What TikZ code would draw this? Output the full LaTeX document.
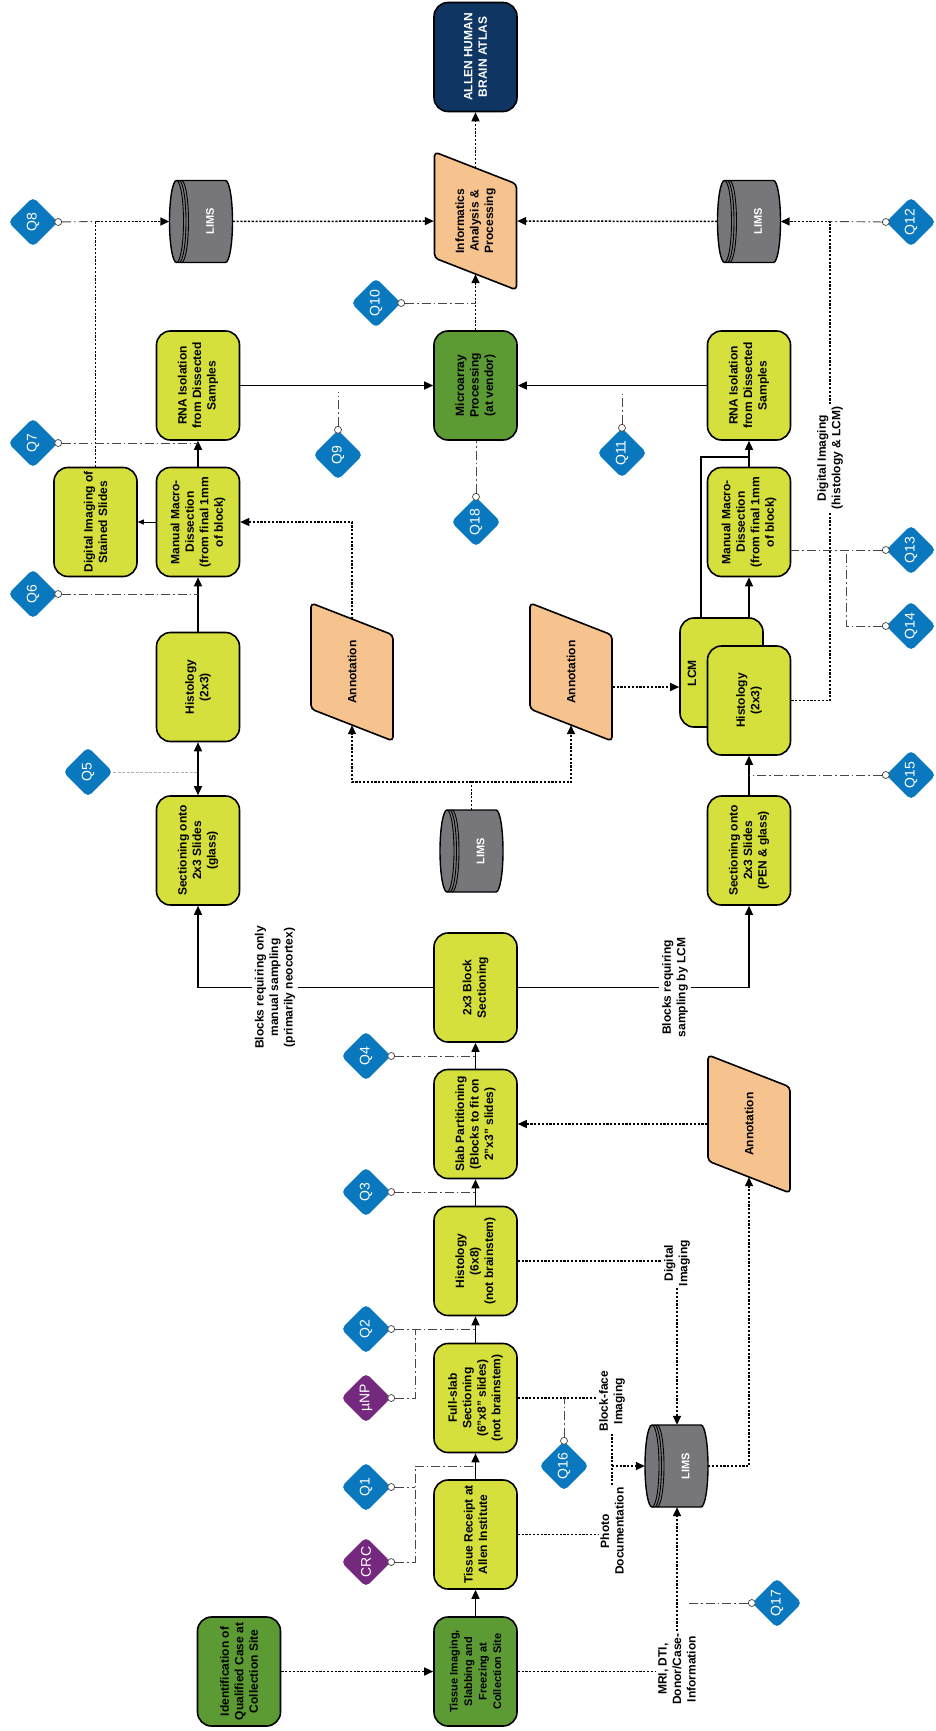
\documentclass[tikz,border=0pt]{standalone}
\usepackage{fontspec}
\setmainfont{Liberation Sans}
\usetikzlibrary{shapes.geometric,arrows.meta,calc}
\definecolor{lime}{HTML}{D5E03C}
\definecolor{dgreen}{HTML}{5C9A33}
\definecolor{navy}{HTML}{0F3563}
\definecolor{peach}{HTML}{F6C38E}
\definecolor{drumgray}{HTML}{77777B}
\definecolor{qblue}{HTML}{0A78BE}
\definecolor{qpurple}{HTML}{74297F}
\tikzset{
 base/.style={rotate=90, align=center, font=\bfseries\fontsize{12}{14.5}\selectfont, inner sep=2pt},
 box/.style={base, rectangle, rounded corners=14pt, draw=black, line width=1.6pt, fill=lime, minimum width=109pt, minimum height=83pt},
 gbox/.style={box, fill=dgreen},
 nbox/.style={box, fill=navy, text=white},
 ptext/.style={base, minimum width=106pt, minimum height=83pt},
 pshape/.style={draw=black, line width=1.6pt, fill=peach, rounded corners=4pt},
 drum/.style={draw=black, line width=1.4pt, fill=drumgray},
 drumline/.style={draw=black, line width=0.9pt},
 drumnode/.style={rotate=90, minimum width=82pt, minimum height=63pt, inner sep=0pt},
 drumtext/.style={base, text=white, font=\bfseries\fontsize{11}{13}\selectfont},
 qd/.style={diamond, fill=qblue, minimum width=50pt, minimum height=50pt, inner sep=0pt, rounded corners=5pt, text=white, rotate=90, font=\fontsize{14}{14}\selectfont},
 pd/.style={qd, fill=qpurple},
 qc/.style={circle, draw=black!75, fill=white, line width=0.7pt, minimum size=7pt, inner sep=0pt},
 lbl/.style={base, fill=white, inner sep=3pt},
 solidc/.style={draw=black, line width=1.4pt},
 dotc/.style={draw=black, line width=1.5pt, dash pattern=on 2.2pt off 1.6pt},
 qline/.style={draw=black!72, line width=0.9pt, dash pattern=on 9pt off 3pt on 1.5pt off 3pt},
 faint/.style={draw=black!30, line width=0.6pt, dash pattern=on 3pt off 1.5pt},
 arr/.style={-{Triangle[length=9pt,width=8pt]}},
 sarr/.style={-{Triangle[length=6pt,width=5pt]}},
 darr/.style={{Triangle[length=9pt,width=8pt]}-{Triangle[length=9pt,width=8pt]}},
}
\newcommand\para[4]{%
  \draw[pshape] ({#1-41},{#2-69}) -- ({#1+41},{#2-37}) -- ({#1+41},{#2+69}) -- ({#1-41},{#2+37}) -- cycle;
  \node[ptext] (#3) at (#1,#2) {#4};}
\newcommand\drumdraw[3]{%
  \draw[drum] ({#2-24.5},{#3-41}) -- ({#2+24.5},{#3-41}) arc[start angle=90,end angle=-90,x radius=7pt,y radius=41pt] -- ({#2-24.5},{#3+41}) arc[start angle=270,end angle=90,x radius=7pt,y radius=41pt] -- cycle;
  \foreach \o in {0,2.5,5} \draw[drumline] ({#2-24.5+\o},{#3-41}) arc[start angle=90,end angle=-90,x radius=7pt,y radius=41pt];
  \node[drumnode] (#1) at (#2,#3) {};
  \node[drumtext] (#1t) at ({#2+9},#3) {LIMS};}
\begin{document}
\begin{tikzpicture}[x=1pt,y=-1pt]
\fill[white] (0,0) rectangle (935,1731);
\useasboundingbox (0,0) rectangle (935,1731);

% ---- main column
\node[gbox] (ident) at (239,1671.5) {Identification of\\Qualified Case at\\Collection Site};
\node[gbox, font=\bfseries\fontsize{11}{14.5}\selectfont] (tissimg) at (475.5,1671.5) {Tissue Imaging,\\Slabbing and\\Freezing at\\Collection Site};
\node[box] (receipt) at (475.5,1534.5) {Tissue Receipt at\\Allen Institute};
\node[box] (fullslab) at (475.5,1398) {Full-slab\\Sectioning\\(6"x8" slides)\\(not brainstem)};
\node[box] (hist68) at (475.5,1261) {Histology\\(6x8)\\(not brainstem)};
\node[box] (slab) at (475.5,1124) {Slab Partitioning\\(Blocks to fit on\\2"x3" slides)};
\node[box] (block) at (475.5,987.5) {2x3 Block\\Sectioning};
\node[gbox] (micro) at (475.5,385.5) {Microarray\\Processing\\(at vendor)};
\node[nbox] (atlas) at (475.5,57) {ALLEN HUMAN\\BRAIN ATLAS};

% ---- upper branch
\node[box] (secglass) at (198,850.5) {Sectioning onto\\2x3 Slides\\(glass)};
\node[box] (histU) at (198,687) {Histology\\(2x3)};
\node[box] (macroU) at (198,522) {Manual Macro-\\Dissection\\(from final 1mm\\of block)};
\node[box] (rnaU) at (198,385.5) {RNA Isolation\\from Dissected\\Samples};
\node[box] (digimg) at (95.5,522) {Digital Imaging of\\Stained Slides};

% ---- lower branch
\node[box] (secpen) at (749,850.5) {Sectioning onto\\2x3 Slides\\(PEN \& glass)};
\node[box] (lcm) at (721.5,672.5) {};
\node[base] (lcmtxt) at (692,673) {LCM};
\node[box] (histL) at (749,700.5) {Histology\\(2x3)};
\node[box] (macroL) at (749,522) {Manual Macro-\\Dissection\\(from final 1mm\\of block)};
\node[box] (rnaL) at (749,385.5) {RNA Isolation\\from Dissected\\Samples};

% ---- parallelograms
\para{352}{672}{annU}{Annotation}
\para{571}{672}{annM}{Annotation}
\para{749}{1124}{annB}{Annotation}
\para{475.5}{221}{info}{Informatics\\Analysis \&\\Processing}

% ---- LIMS drums
\drumdraw{limsB}{676.5}{1466}
\drumdraw{limsM}{471.5}{851}
\drumdraw{limsU}{201}{221.5}
\drumdraw{limsR}{749}{221.5}

% ---- connector labels
\node[lbl] (lblA) at (275,987.5) {Blocks requiring only\\manual sampling\\(primarily neocortex)};
\node[lbl] (lblB) at (675,987.5) {Blocks requiring\\sampling by LCM};
\node[lbl, inner sep=2pt] (lblBF) at (612,1401) {Block-face\\Imaging};
\node[lbl, inner sep=2pt] (lblPD) at (612,1531) {Photo\\Documentation};
\node[lbl, inner sep=2pt] (lblMRI) at (677,1669) {MRI, DTI,\\Donor/Case-\\Information};
\node[lbl, inner sep=2pt] (lblDI) at (677,1263) {Digital\\Imaging};
\node[lbl, inner sep=2pt] (lblDI2) at (830,458) {Digital Imaging\\(histology \& LCM)};

% ---- diamonds
\node[qd] (q1) at (366,1487) {Q1}; \node[qc] (q1c) at (q1.south) {};
\node[pd] (crc) at (366,1562) {CRC}; \node[qc] (crcc) at (crc.south) {};
\node[pd] (unp) at (366,1398) {µNP}; \node[qc] (unpc) at (unp.south) {};
\node[qd] (q2) at (366,1329) {Q2}; \node[qc] (q2c) at (q2.south) {};
\node[qd] (q3) at (366,1192) {Q3}; \node[qc] (q3c) at (q3.south) {};
\node[qd] (q4) at (366,1056) {Q4}; \node[qc] (q4c) at (q4.south) {};
\node[qd] (q5) at (88,772) {Q5};
\node[qd] (q6) at (33,594) {Q6}; \node[qc] (q6c) at (q6.south) {};
\node[qd] (q7) at (33,443) {Q7}; \node[qc] (q7c) at (q7.south) {};
\node[qd] (q8) at (33,222) {Q8}; \node[qc] (q8c) at (q8.south) {};
\node[qd] (q9) at (338,455) {Q9}; \node[qc] (q9c) at (q9.east) {};
\node[qd] (q10) at (376,303) {Q10}; \node[qc] (q10c) at (q10.south) {};
\node[qd] (q11) at (622,453) {Q11}; \node[qc] (q11c) at (q11.east) {};
\node[qd] (q12) at (911,222) {Q12}; \node[qc] (q12c) at (q12.north) {};
\node[qd] (q13) at (911,550) {Q13}; \node[qc] (q13c) at (q13.north) {};
\node[qd] (q14) at (911,626) {Q14}; \node[qc] (q14c) at (q14.north) {};
\node[qd] (q15) at (911,775) {Q15}; \node[qc] (q15c) at (q15.north) {};
\node[qd] (q16) at (564,1466) {Q16}; \node[qc] (q16c) at (q16.east) {};
\node[qd] (q17) at (777,1603) {Q17}; \node[qc] (q17c) at (q17.north) {};
\node[qd] (q18) at (476,522) {Q18}; \node[qc] (q18c) at (q18.east) {};

% ---- solid connectors
\draw[solidc,arr] (tissimg) -- (receipt);
\draw[solidc,arr] (receipt) -- (fullslab);
\draw[solidc,arr] (fullslab) -- (hist68);
\draw[solidc,arr] (hist68) -- (slab);
\draw[solidc,arr] (slab) -- (block);
\draw[solidc] (block) -- (lblA);
\draw[solidc,arr] (lblA) -| (secglass);
\draw[solidc] (block) -- (lblB);
\draw[solidc,arr] (lblB) -| (secpen);
\draw[solidc,darr] (secglass) -- (histU);
\draw[solidc,arr] (histU) -- (macroU);
\draw[solidc,arr] (macroU) -- (rnaU);
\draw[solidc,sarr,line width=0.7pt] (macroU) -- (digimg);
\draw[solidc,arr] (rnaU) -- (micro);
\draw[solidc,arr] (rnaL) -- (micro);
\draw[solidc,arr] (secpen) -- (histL);
\coordinate (lcmtop) at ($(lcm.east)+(-20.5,0)$);
\draw[solidc,arr] (macroL |- lcm.east) -- (macroL);
\coordinate (jL) at (749,457);
\draw[solidc] (lcmtop) |- (jL);
\draw[solidc,arr] (macroL) -- (rnaL);

% ---- dotted connectors
\draw[dotc,arr] (ident) -- (tissimg);
\draw[dotc,arr] (micro) -- (info);
\draw[dotc,arr] (info) -- (atlas);
\draw[dotc,arr] (limsU) -- (info);
\draw[dotc,arr] (limsR) -- (info);
\draw[dotc,arr] (digimg) |- (limsU);
\coordinate (jM) at (471.5,782);
\draw[dotc] (limsM) -- (jM);
\draw[dotc,arr] (jM) -| (annU);
\draw[dotc,arr] (jM) -| (annM);
\draw[dotc,arr] (annU) |- (macroU);
\coordinate (amo) at ($(annM.south)+(0,15)$);
\draw[dotc,arr] (amo) -- (amo -| lcm.north);
\draw[dotc] (histL) -| (lblDI2);
\draw[dotc,arr] (lblDI2) |- (limsR);
\draw[dotc] (hist68.south) -- (hist68.south -| lblDI.north);
\draw[dotc,arr] (lblDI.west) -- (lblDI.west |- limsB.east);
\draw[dotc] (fullslab.south) -- (fullslab.south -| lblBF.north);
\draw[dotc] (receipt.south) -- (receipt.south -| lblPD.north);
\draw[dotc] (lblBF.west) -- (lblPD.east);
\coordinate (jP) at (lblBF.west |- limsB);
\draw[dotc,arr] (jP) -- (limsB);
\draw[dotc] (tissimg.south) -- (tissimg.south -| lblMRI.north);
\draw[dotc,arr] (lblMRI.east) -- (lblMRI.east |- limsB.west);
\draw[dotc,arr] (limsB) -| (annB);
\draw[dotc,arr] (annB) -- (slab);

% ---- QC connectors
\coordinate (jA) at (415,1466);
\draw[qline] (crcc) -| (jA) -- (jA -| receipt);
\draw[qline] (q1c) -- (q1c -| jA);
\coordinate (jB) at (415,1329);
\draw[qline] (unpc) -| (jB);
\draw[qline] (q2c) -- (q2c -| fullslab);
\draw[qline] (q3c) -- (q3c -| hist68);
\draw[qline] (q4c) -- (q4c -| slab);
\draw[faint] (q5.south) -- (q5.south -| secglass);
\draw[qline] (q6c) -- (q6c -| macroU);
\draw[qline] (q7c) -- (q7c -| rnaU);
\coordinate (j8) at (digimg.east |- limsU);
\draw[qline] (q8c) -- (j8);
\coordinate (q9e) at (338,392);
\draw[qline] (q9c) -- (q9e);
\draw[qline] (q10c) -- (q10c -| micro);
\coordinate (q11e) at (622,392);
\draw[qline] (q11c) -- (q11e);
\coordinate (j12) at (lblDI2 |- limsR);
\draw[qline] (q12c) -- (j12);
\draw[qline] (q13c) -- (q13c -| macroL.south);
\coordinate (j13) at (846,550);
\draw[qline] (q14c) -| (j13);
\draw[qline] (q15c) -- (q15c -| secpen);
\draw[qline] (q16c) -- (q16c |- fullslab);
\coordinate (q17e) at (687,1603);
\draw[qline] (q17c) -- (q17e);
\draw[qline] (q18c) -- (q18c |- micro.west);
\end{tikzpicture}
\end{document}
